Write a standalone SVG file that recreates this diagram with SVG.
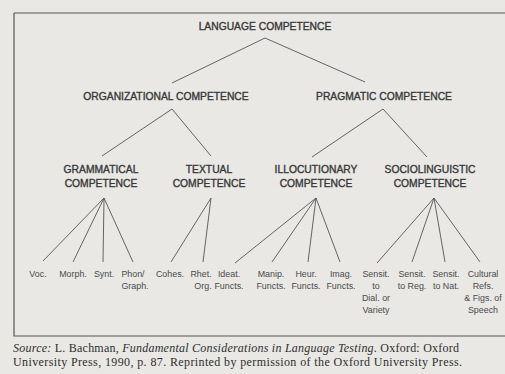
<svg xmlns="http://www.w3.org/2000/svg" width="505" height="374" viewBox="0 0 505 374">
<style>
.h{font-family:"Liberation Sans",Arial,sans-serif;font-size:10.3px;fill:#383838;stroke:#383838;stroke-width:0.35;text-anchor:middle}
.l{font-family:"Liberation Sans",Arial,sans-serif;font-size:8.9px;fill:#4a4a4a;text-anchor:middle}
.e{stroke:#555;stroke-width:0.9;fill:none}
.src{font-family:"Liberation Serif","Times New Roman",serif;font-size:12px;fill:#2e2e2e}
</style>
<rect x="0" y="0" width="505" height="374" fill="#e9e8e5"/>
<path d="M14,13 H505 M14,13 V336 H505" stroke="#555" stroke-width="1.2" fill="none"/>
<g id="connectors" class="e">
<line x1="265" y1="38" x2="172" y2="83"/>
<line x1="265" y1="38" x2="365" y2="82"/>
<line x1="172" y1="109" x2="102" y2="156"/>
<line x1="172" y1="109" x2="211" y2="156"/>
<line x1="383" y1="109" x2="312" y2="157"/>
<line x1="383" y1="109" x2="427" y2="157"/>
<line x1="104" y1="198" x2="43" y2="261"/>
<line x1="104" y1="198" x2="73" y2="262"/>
<line x1="104" y1="198" x2="103" y2="262"/>
<line x1="104" y1="198" x2="133" y2="262"/>
<line x1="211" y1="198" x2="171" y2="262"/>
<line x1="211" y1="198" x2="203" y2="262"/>
<line x1="316" y1="198" x2="235" y2="263"/>
<line x1="316" y1="198" x2="272" y2="262"/>
<line x1="316" y1="198" x2="308" y2="262"/>
<line x1="316" y1="198" x2="340" y2="262"/>
<line x1="434" y1="198" x2="377" y2="263"/>
<line x1="434" y1="198" x2="412" y2="262"/>
<line x1="434" y1="198" x2="445" y2="262"/>
<line x1="434" y1="198" x2="480" y2="262"/>
</g>
<g id="language"><text class="h" x="265" y="30">LANGUAGE COMPETENCE</text></g>
<g id="organizational"><text class="h" x="166" y="100">ORGANIZATIONAL COMPETENCE</text></g>
<g id="pragmatic"><text class="h" x="384" y="100">PRAGMATIC COMPETENCE</text></g>
<g id="grammatical"><text class="h" x="101" y="173">GRAMMATICAL</text><text class="h" x="101" y="187">COMPETENCE</text></g>
<g id="textual"><text class="h" x="209" y="173">TEXTUAL</text><text class="h" x="209" y="187">COMPETENCE</text></g>
<g id="illocutionary"><text class="h" x="316" y="173">ILLOCUTIONARY</text><text class="h" x="316" y="187">COMPETENCE</text></g>
<g id="sociolinguistic"><text class="h" x="430" y="173">SOCIOLINGUISTIC</text><text class="h" x="430" y="187">COMPETENCE</text></g>
<g id="voc"><text class="l" x="38" y="277">Voc.</text></g>
<g id="morph"><text class="l" x="73" y="277">Morph.</text></g>
<g id="synt"><text class="l" x="104" y="277">Synt.</text></g>
<g id="phon"><text class="l" x="133" y="277">Phon/</text><text class="l" x="135" y="289">Graph.</text></g>
<g id="cohes"><text class="l" x="170" y="277">Cohes.</text></g>
<g id="rhet"><text class="l" x="201" y="277">Rhet.</text><text class="l" x="203" y="289">Org.</text></g>
<g id="ideat"><text class="l" x="229" y="277">Ideat.</text><text class="l" x="229" y="289">Functs.</text></g>
<g id="manip"><text class="l" x="271" y="277">Manip.</text><text class="l" x="271" y="289">Functs.</text></g>
<g id="heur"><text class="l" x="306" y="277">Heur.</text><text class="l" x="306" y="289">Functs.</text></g>
<g id="imag"><text class="l" x="341" y="277">Imag.</text><text class="l" x="341" y="289">Functs.</text></g>
<g id="dial"><text class="l" x="376" y="277">Sensit.</text><text class="l" x="376" y="289">to</text><text class="l" x="376" y="301">Dial. or</text><text class="l" x="376" y="313">Variety</text></g>
<g id="reg"><text class="l" x="412" y="277">Sensit.</text><text class="l" x="412" y="289">to Reg.</text></g>
<g id="nat"><text class="l" x="446" y="277">Sensit.</text><text class="l" x="446" y="289">to Nat.</text></g>
<g id="cultural"><text class="l" x="483" y="277">Cultural</text><text class="l" x="483" y="289">Refs.</text><text class="l" x="483" y="301">&amp; Figs. of</text><text class="l" x="483" y="313">Speech</text></g>
<text class="src" x="13" y="352" textLength="446" lengthAdjust="spacing"><tspan font-style="italic">Source:</tspan>  L. Bachman, <tspan font-style="italic">Fundamental Considerations in Language Testing</tspan>. Oxford: Oxford</text>
<text class="src" x="13" y="366" textLength="449" lengthAdjust="spacing">University Press, 1990, p. 87. Reprinted by permission of the Oxford University Press.</text>
</svg>
